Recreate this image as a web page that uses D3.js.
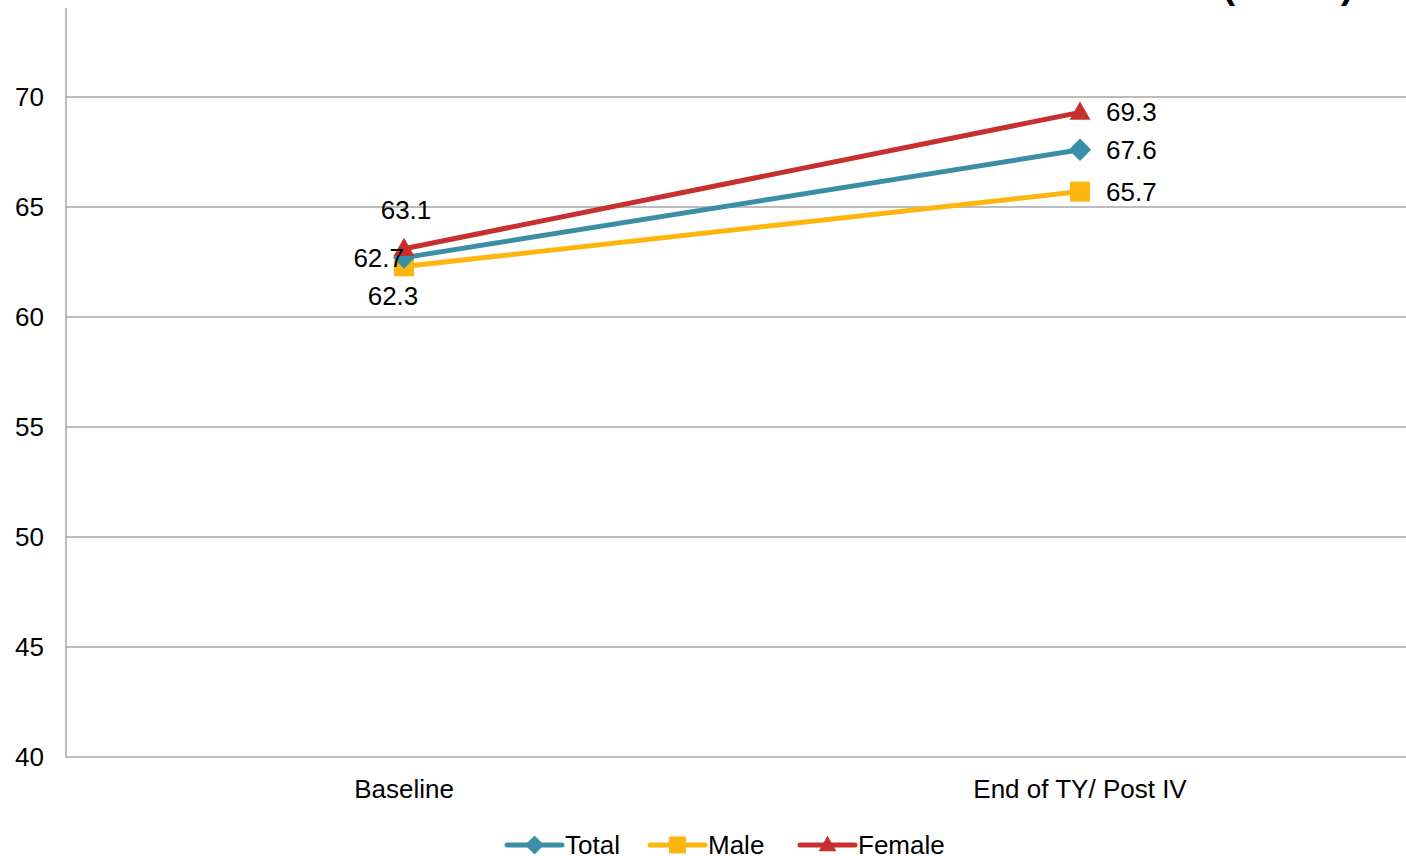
<!DOCTYPE html>
<html><head><meta charset="utf-8">
<script src="https://cdn.jsdelivr.net/npm/d3@7"></script>
<style>body{margin:0;background:#fff}svg{display:block;font-family:"Liberation Sans",Arial,sans-serif}</style>
</head><body>
<svg id="c" width="1406" height="856"></svg>
<script>
const categories = ["Baseline", "End of TY/ Post IV"];
const seriesNames = ["Total", "Male", "Female"];
const totalValues = [62.7, 67.6];
const maleValues = [62.3, 65.7];
const femaleValues = [63.1, 69.3];
const yTicks = [40, 45, 50, 55, 60, 65, 70];
const colors = {Total: "#3A8FA6", Male: "#FFB50F", Female: "#C7302F"};

const series = [
  {name: "Total", values: totalValues},
  {name: "Male", values: maleValues},
  {name: "Female", values: femaleValues}
];

const FS = 26;
const svg = d3.select("#c");
const x = d3.scaleBand().domain(categories).range([66, 1418]);
const y = d3.scaleLinear().domain([40, 70]).range([757, 97]);
const cx = c => x(c) + x.bandwidth() / 2;

function marker(g, name, scale) {
  const k = scale || 1;
  if (name === "Total") {
    g.append("path").attr("d", d3.symbol().type(d3.symbolSquare).size(250 * k * k)).attr("transform", "rotate(45)").attr("fill", colors[name]);
  } else if (name === "Male") {
    g.append("path").attr("d", d3.symbol().type(d3.symbolSquare).size(400 * k * k)).attr("fill", colors[name]);
  } else {
    const s = 21 * k, h = s * 0.87;
    g.append("path").attr("d", `M0,${-h * 0.6}L${s / 2},${h * 0.4}L${-s / 2},${h * 0.4}Z`).attr("fill", colors[name]);
  }
}

// partial title (clipped at top)
svg.append("text").attr("x", 1288).attr("y", -2).attr("text-anchor", "middle")
  .attr("font-size", 38).attr("font-weight", "bold").text("(Score)");

// gridlines
svg.append("g").selectAll("line").data(yTicks.filter(t => t > 40)).join("line")
  .attr("x1", 66).attr("x2", 1406).attr("y1", d => y(d)).attr("y2", d => y(d))
  .attr("stroke", "#A6A6A6").attr("stroke-width", 1.5);

// axes
const yAxis = svg.append("g").attr("transform", "translate(66,0)")
  .call(d3.axisLeft(y).tickValues(yTicks).tickSize(0).tickPadding(22));
yAxis.select(".domain").remove();
yAxis.selectAll("text").attr("font-size", FS).attr("fill", "#000").attr("font-family", "Liberation Sans, Arial, sans-serif");
svg.append("line").attr("x1", 66).attr("x2", 66).attr("y1", 8).attr("y2", 757.5).attr("stroke", "#A6A6A6").attr("stroke-width", 1.5);
svg.append("line").attr("x1", 66).attr("x2", 1406).attr("y1", 757).attr("y2", 757).attr("stroke", "#A6A6A6").attr("stroke-width", 1.5);

const xAxis = svg.append("g").attr("transform", "translate(0,757)")
  .call(d3.axisBottom(x).tickSize(0).tickPadding(23));
xAxis.select(".domain").remove();
xAxis.selectAll("text").attr("font-size", FS).attr("fill", "#000").attr("font-family", "Liberation Sans, Arial, sans-serif");

// lines
const line = d3.line().x((d, i) => cx(categories[i])).y(d => y(d));
const drawOrder = [series[1], series[0], series[2]];
drawOrder.forEach(s => {
  svg.append("path").datum(s.values).attr("d", line).attr("fill", "none")
    .attr("stroke", colors[s.name]).attr("stroke-width", 5).attr("stroke-linecap", "round");
});
drawOrder.forEach(s => {
  s.values.forEach((v, i) => {
    const g = svg.append("g").attr("transform", `translate(${cx(categories[i])},${y(v)})`);
    marker(g, s.name, 1);
  });
});

// data labels
const lab = svg.append("g").attr("font-size", FS).attr("fill", "#000");
const bx = cx(categories[0]), ex = cx(categories[1]);
lab.append("text").attr("x", bx + 2).attr("y", y(femaleValues[0]) - 30).attr("text-anchor", "middle").text(femaleValues[0].toFixed(1));
lab.append("text").attr("x", bx + 0).attr("y", y(totalValues[0]) + 9).attr("text-anchor", "end").text(totalValues[0].toFixed(1));
lab.append("text").attr("x", bx - 11).attr("y", y(maleValues[0]) + 39).attr("text-anchor", "middle").text(maleValues[0].toFixed(1));
[femaleValues, totalValues, maleValues].forEach(v => {
  lab.append("text").attr("x", ex + 26).attr("y", y(v[1]) + 9).text(v[1].toFixed(1));
});

// legend
const legX = [507, 650, 800];
const lg = svg.append("g");
series.forEach((s, i) => {
  const g = lg.append("g").attr("transform", `translate(${legX[i]},845)`);
  g.append("line").attr("x1", 0).attr("x2", 55).attr("stroke", colors[s.name]).attr("stroke-width", 5).attr("stroke-linecap", "round");
  const m = g.append("g").attr("transform", "translate(27.5,0)");
  marker(m, s.name, 0.85);
  g.append("text").attr("x", 58).attr("y", 9).attr("font-size", FS).attr("fill", "#000").text(s.name);
});
</script>
</body></html>
